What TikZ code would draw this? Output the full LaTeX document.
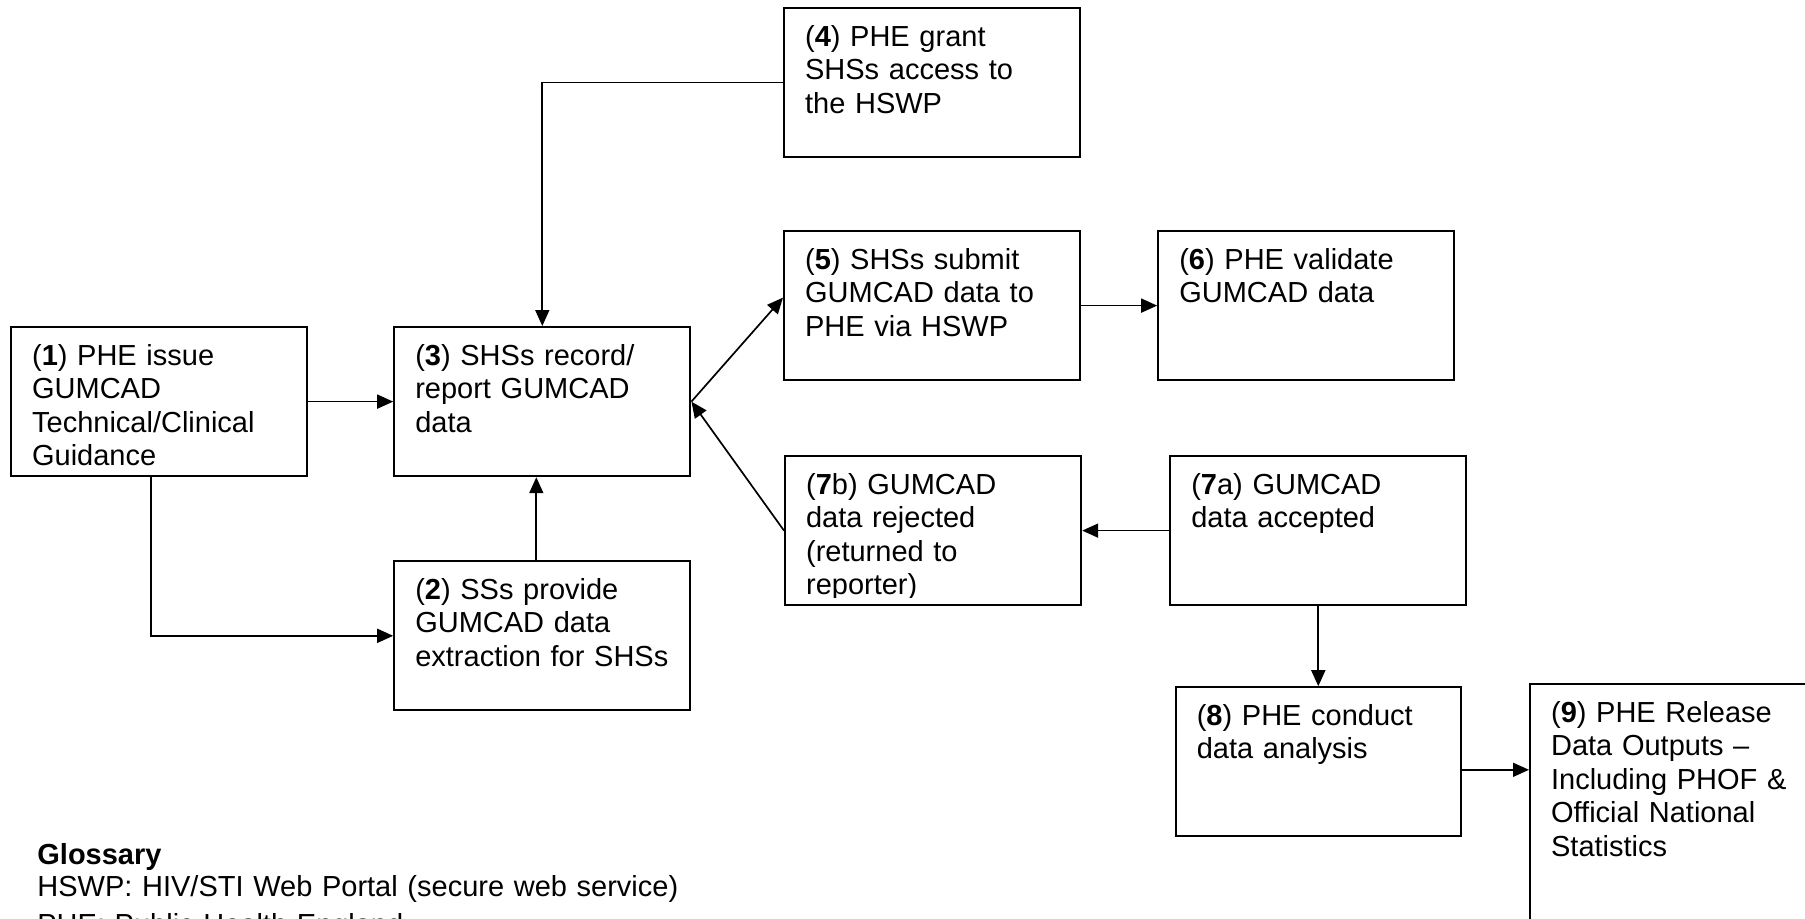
\documentclass[tikz,border=0pt]{standalone}
\usepackage{fontspec}
\setmainfont{Liberation Sans}
\usetikzlibrary{positioning,arrows.meta}

\tikzset{
  stage/.style={draw, line width=1.1pt, align=left, inner xsep=10.5pt, inner ysep=5pt,
    text width=127pt, text height=14pt, text depth=50.5pt,
    font=\fontsize{14.5pt}{16.75pt}\selectfont},
  flow/.style={line width=0.85pt, -{Triangle[length=8pt,width=7pt]}},
}

\begin{document}
\begin{tikzpicture}[x=0.5pt, y=-0.5pt]
	\path[use as bounding box, clip] (0,0) rectangle (1805,918);

	\node[stage, anchor=north west] (n1) at (10,326) {(\textbf{1}) PHE issue\\GUMCAD\\Technical/Clinical\\Guidance};
	\node[stage, right=42.5pt of n1] (n3) {(\textbf{3}) SHSs record/\\report GUMCAD\\data};
	\node[stage, below=41.5pt of n3] (n2) {(\textbf{2}) SSs provide\\GUMCAD data\\extraction for SHSs};
	\node[stage, anchor=north west] (n4) at (783,7) {(\textbf{4}) PHE grant\\SHSs access to\\the HSWP};
	\node[stage, anchor=north west] (n5) at (783,230) {(\textbf{5}) SHSs submit\\GUMCAD data to\\PHE via HSWP};
	\node[stage, right=38pt of n5] (n6) {(\textbf{6}) PHE validate\\GUMCAD data};
	\node[stage, anchor=north west] (n7b) at (784,455) {};
	\begin{scope}
		\clip (n7b.north west) rectangle ([yshift=4.5pt]n7b.south east);
		\node[stage, draw=none] (t7b) at (n7b.center) {(\textbf{7}b) GUMCAD\\data rejected\\(returned to\\reporter)};
	\end{scope}
	\node[stage, right=43.5pt of n7b] (n7a) {(\textbf{7}a) GUMCAD\\data accepted};
	\node[stage, text width=121.5pt, below=40pt of n7a] (n8) {(\textbf{8}) PHE conduct\\data analysis};
	\node[stage, text width=139pt, text depth=106pt, anchor=north west] (n9) at (1529,683) {(\textbf{9}) PHE Release\\Data Outputs --\\Including PHOF \&\\Official National\\Statistics};

	% glossary
	\node[anchor=base west, text width=400pt, align=left, inner sep=0pt,
		font=\fontsize{14.5pt}{16pt}\selectfont] (gloss) at (37,864)
		{\textbf{Glossary}\\HSWP: HIV/STI Web Portal (secure web service)\\[3pt]PHE: Public Health England};

	\draw[flow] (n1) -- (n3);
	\draw[flow] ([xshift=-4pt]n1.south) |- (n2.west);
	\draw[flow] ([xshift=-3pt]n2.north) -- ([xshift=-3pt]n3.south);
	\draw[flow] (n4.west) -| (n3.north);
	\draw[flow] (n3.east) -- ([yshift=4pt]n5.west);
	\draw[flow] (n5) -- (n6);
	\draw[flow] (n7b.west) -- (n3.east);
	\draw[flow] (n7a) -- (n7b);
	\draw[flow] (n7a) -- (n8);
	\draw[flow] ([yshift=-4pt]n8.east) -- ([yshift=-4pt]n8.east -| n9.west);
\end{tikzpicture}
\end{document}
